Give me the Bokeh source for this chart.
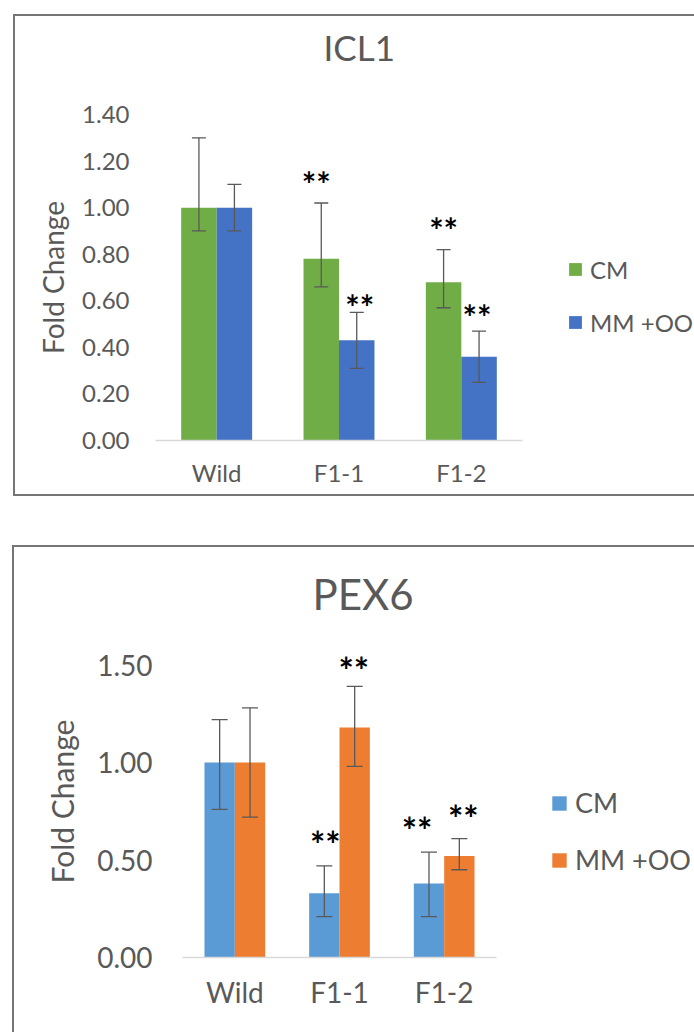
from bokeh.plotting import figure
from bokeh.models import (Range1d, FixedTicker, NumeralTickFormatter,
                          ColumnDataSource, Whisker, TeeHead, Legend, LegendItem)
from bokeh.transform import dodge
from bokeh.core.properties import value
from bokeh.embed import file_html
from bokeh.resources import INLINE

# ---------------- data ----------------
categories = ["Wild", "F1-1", "F1-2"]
series_names = ["CM", "MM +OO"]

# ICL1
icl1_cm = [1.00, 0.78, 0.68]
icl1_cm_hi = [1.30, 1.02, 0.82]
icl1_cm_lo = [0.90, 0.66, 0.57]
icl1_mm = [1.00, 0.43, 0.36]
icl1_mm_hi = [1.10, 0.55, 0.47]
icl1_mm_lo = [0.90, 0.31, 0.25]
icl1_sig_cm_cats = ["F1-1", "F1-2"]
icl1_sig_cm_y = [1.13, 0.93]
icl1_sig_mm_cats = ["F1-1", "F1-2"]
icl1_sig_mm_y = [0.60, 0.56]
icl1_ticks = [0.0, 0.2, 0.4, 0.6, 0.8, 1.0, 1.2, 1.4]

# PEX6
pex6_cm = [1.00, 0.33, 0.38]
pex6_cm_hi = [1.22, 0.47, 0.54]
pex6_cm_lo = [0.76, 0.21, 0.21]
pex6_mm = [1.00, 1.18, 0.52]
pex6_mm_hi = [1.28, 1.39, 0.61]
pex6_mm_lo = [0.72, 0.98, 0.45]
pex6_sig_cm_cats = ["F1-1", "F1-2"]
pex6_sig_cm_y = [0.62, 0.69]
pex6_sig_mm_cats = ["F1-1", "F1-2"]
pex6_sig_mm_y = [1.51, 0.75]
pex6_ticks = [0.0, 0.5, 1.0, 1.5]

FONT = "Lato"
GREY_TXT = "#595959"
BORDER = "#767676"

# category slot centres on a numeric axis (slot i spans [i, i+1])
cat_pos = {c: i + 0.5 for i, c in enumerate(categories)}


def make_panel(title, cm, cm_hi, cm_lo, mm, mm_hi, mm_lo,
               sig_cm_cats, sig_cm_y, sig_mm_cats, sig_mm_y, ticks,
               colors, st):
    p = figure(
        x_range=Range1d(0, st["xmax"]),
        y_range=Range1d(0, st["ymax"]),
        width=st["width"], height=st["height"],
        min_border_left=st["bl"], min_border_right=0,
        min_border_top=st["bt"], min_border_bottom=st["bb"],
        toolbar_location=None, output_backend="svg",
        border_fill_color=None, background_fill_color=None,
        outline_line_color=None,
    )
    p.styles = {"box-shadow": st["shadow"]}

    xs = [cat_pos[c] for c in categories]
    src = ColumnDataSource(dict(x=xs, cm=cm, cm_hi=cm_hi, cm_lo=cm_lo,
                                mm=mm, mm_hi=mm_hi, mm_lo=mm_lo))
    d = 0.145
    w = 0.29
    r1 = p.vbar(x=dodge("x", -d), top="cm", width=w, source=src,
                fill_color=colors[0], line_color=None)
    r2 = p.vbar(x=dodge("x", d), top="mm", width=w, source=src,
                fill_color=colors[1], line_color=None)

    for off, hi, lo in ((-d, "cm_hi", "cm_lo"), (d, "mm_hi", "mm_lo")):
        wk = Whisker(source=src, base=dodge("x", off),
                     upper=hi, lower=lo, line_color=GREY_TXT, line_width=1.3,
                     upper_head=TeeHead(size=st["cap"], line_color=GREY_TXT, line_width=1.3),
                     lower_head=TeeHead(size=st["cap"], line_color=GREY_TXT, line_width=1.3),
                     level="overlay")
        p.add_layout(wk)

    for off, cats, ys, dx in ((-d, sig_cm_cats, sig_cm_y, st["star_cm_dx"]),
                              (d, sig_mm_cats, sig_mm_y, st["star_mm_dx"])):
        ssrc = ColumnDataSource(dict(x=[cat_pos[c] for c in cats], y=ys,
                                     t=["**"] * len(cats), dx=dx))
        p.text(x=dodge("x", off), y="y", text="t", source=ssrc,
               text_align="center", text_baseline="middle",
               x_offset="dx", y_offset=st["star_dy"],
               text_font=value(FONT), text_font_size=st["star_fs"],
               text_color="black", text_font_style="bold")

    # axes
    p.xgrid.grid_line_color = None
    p.ygrid.grid_line_color = None
    xa = p.xaxis[0]
    xa.ticker = FixedTicker(ticks=xs)
    xa.major_label_overrides = {cat_pos[c]: c for c in categories}
    xa.bounds = (0, len(categories))
    xa.axis_line_color = "#D9D9D9"
    xa.axis_line_width = 1.3
    xa.major_tick_line_color = None
    xa.minor_tick_line_color = None
    xa.major_label_text_font = FONT
    xa.major_label_text_font_size = st["tick_fs"]
    xa.major_label_text_color = GREY_TXT
    xa.major_label_standoff = st["x_stand"]

    ya = p.yaxis[0]
    ya.ticker = FixedTicker(ticks=ticks)
    ya.formatter = NumeralTickFormatter(format="0.00")
    ya.axis_line_color = None
    ya.major_tick_line_color = None
    ya.minor_tick_line_color = None
    ya.major_label_text_font = FONT
    ya.major_label_text_font_size = st["tick_fs"]
    ya.major_label_text_color = GREY_TXT
    ya.major_label_standoff = st["y_stand"]
    ya.axis_label = "Fold Change"
    ya.axis_label_text_font = FONT
    ya.axis_label_text_font_size = st["lab_fs"]
    ya.axis_label_text_font_style = "normal"
    ya.axis_label_text_color = GREY_TXT
    ya.axis_label_standoff = st["lab_stand"]

    # title
    p.title.text = title + st["title_tail"]
    p.title.text_font = FONT
    p.title.text_font_size = st["title_fs"]
    p.title.text_font_style = "normal"
    p.title.text_color = GREY_TXT
    p.title.align = "left"
    p.title.offset = st["title_off"]
    p.title.standoff = st["title_stand"]

    # legend
    leg = Legend(items=[LegendItem(label=series_names[0], renderers=[r1]),
                        LegendItem(label=series_names[1], renderers=[r2])],
                 location=st["leg_loc"], orientation="vertical",
                 padding=0, margin=0, border_line_color=None, background_fill_color=None,
                 glyph_width=st["glyph"], glyph_height=st["glyph"],
                 label_height=st["lab_h"], spacing=st["leg_sp"], label_standoff=7,
                 label_text_font=FONT, label_text_font_size=st["leg_fs"],
                 label_text_color=GREY_TXT)
    p.add_layout(leg)
    return p


top_style = dict(
    xmax=3 + 172 / 122.33, ymax=1.4, width=694, height=540, bl=155, bt=114, bb=100,
    shadow=("inset 13px 0 0 0 #fff, inset 0 14px 0 0 #fff, inset 0 -44px 0 0 #fff, "
            "inset 15px 0 0 0 %s, inset 0 16px 0 0 %s, inset 0 -46px 0 0 %s") % (BORDER, BORDER, BORDER),
    cap=14, star_dy=6, star_fs="34px", star_cm_dx=[-5, 0], star_mm_dx=[3, -2],
    tick_fs="24px", x_stand=11, y_stand=20,
    lab_fs="28px", lab_stand=9, title_fs="35px", title_off=168, title_stand=9,
    title_tail="\n",
    leg_loc=(412, 103), glyph=16, lab_h=30, leg_sp=23, leg_fs="24px",
)

bot_style = dict(
    xmax=3 + 198 / 104.67, ymax=1.6, width=694, height=492, bl=182, bt=105, bb=75,
    shadow=("inset 12px 0 0 0 #fff, inset 0 5px 0 0 #fff, "
            "inset 14px 0 0 0 %s, inset 0 7px 0 0 %s") % (BORDER, BORDER),
    cap=16, star_dy=7, star_fs="36px", star_cm_dx=[1, -12], star_mm_dx=[-1, 4],
    tick_fs="28px", x_stand=11, y_stand=24,
    lab_fs="30px", lab_stand=14, title_fs="42px", title_off=130, title_stand=53,
    title_tail="",
    leg_loc=(368, 81), glyph=18, lab_h=32, leg_sp=24, leg_fs="27px",
)

p1 = make_panel("ICL1", icl1_cm, icl1_cm_hi, icl1_cm_lo, icl1_mm, icl1_mm_hi, icl1_mm_lo,
                icl1_sig_cm_cats, icl1_sig_cm_y, icl1_sig_mm_cats, icl1_sig_mm_y, icl1_ticks,
                ["#70AD47", "#4472C4"], top_style)
p2 = make_panel("PEX6", pex6_cm, pex6_cm_hi, pex6_cm_lo, pex6_mm, pex6_mm_hi, pex6_mm_lo,
                pex6_sig_cm_cats, pex6_sig_cm_y, pex6_sig_mm_cats, pex6_sig_mm_y, pex6_ticks,
                ["#5B9BD5", "#ED7D31"], bot_style)

open("out.html", "w").write(file_html([p1, p2], INLINE))
